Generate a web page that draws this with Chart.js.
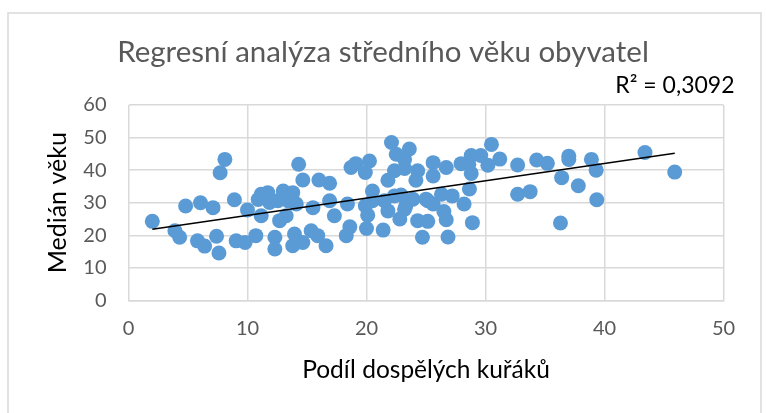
<!DOCTYPE html>
<html>
<head>
<meta charset="utf-8">
<script src="https://cdn.jsdelivr.net/npm/chart.js@4/dist/chart.umd.min.js"></script>
<style>
    html, body { margin: 0; padding: 0; background: #fff; }
    #wrap { width: 766px; height: 413px; }
</style>
</head>
<body>
<div id="wrap"><canvas id="graph" width="766" height="413"></canvas></div>
<script>
// Podíl dospělých kuřáků (x) a medián věku (y)
const smokers = [
    2.0, 3.9, 4.3, 4.8, 5.8, 6.05, 6.4, 7.1, 7.4, 7.6, 7.7, 8.1, 8.9, 9.05, 9.8, 10.0, 10.7, 10.9,
    11.15, 11.7, 11.85, 11.15, 12.55, 13.0, 13.8, 13.4, 14.1, 12.7, 13.25, 12.3, 12.3, 13.95, 13.8,
    14.65, 15.35, 15.9, 16.6, 14.3, 14.65, 16.0, 16.9, 15.5, 16.9, 17.3, 18.4,
    18.6, 18.3, 18.7, 19.1, 20.25, 19.9, 20.5, 19.9, 20.1, 20.0, 20.5,
    21.4, 21.5, 21.8, 21.8, 22.1, 22.5, 22.35, 22.35, 22.9, 22.8, 23.2, 23.2, 23.2, 23.6, 23.9,
    24.15, 24.3, 24.3, 24.7, 25.0, 25.15, 25.15, 25.6, 25.6, 25.6, 23.3,
    26.3, 26.7, 27.2, 26.5, 26.7, 26.85, 27.95, 28.2, 28.65, 28.8, 28.8, 28.9, 29.6, 30.2, 30.5, 31.2, 28.6,
    32.7, 32.7, 33.75, 34.3, 35.2, 36.3, 36.4, 37.0, 37.0, 37.8, 38.9, 39.3, 39.35, 43.4, 45.9
];
const medianAge = [
    24.3, 21.4, 19.4, 29.0, 18.3, 30.0, 16.7, 28.5, 19.7, 14.6, 39.2, 43.3, 30.9, 18.3, 17.8, 27.8, 19.9, 31.0,
    32.6, 33.1, 30.1, 26.0, 30.6, 33.6, 33.1, 30.6, 29.6, 24.5, 26.0, 19.4, 15.8, 20.4, 16.8,
    17.8, 21.4, 19.9, 16.8, 41.8, 37.0, 37.0, 36.0, 28.5, 30.6, 26.0, 29.6,
    22.6, 19.9, 40.8, 42.0, 42.8, 39.3, 33.6, 29.1, 26.2, 22.1, 30.6,
    21.6, 30.6, 27.5, 36.9, 48.5, 44.9, 39.8, 32.1, 32.4, 25.0, 28.0, 40.5, 43.3, 46.5, 31.1,
    36.9, 39.8, 24.5, 19.4, 31.1, 24.3, 30.6, 42.3, 38.2, 29.6, 29.0,
    32.6, 40.8, 32.1, 27.3, 24.8, 19.5, 42.0, 29.6, 34.2, 39.0, 44.5, 23.9, 44.5, 41.5, 47.9, 43.4, 41.8,
    41.6, 32.6, 33.4, 43.1, 42.1, 23.8, 37.7, 44.3, 43.3, 35.2, 43.3, 40.0, 30.9, 45.4, 39.4
];

// lineární trend (koncové body)
const trendX = [2.0, 45.9];
const trendY = [21.9, 45.2];

const xTicks = [0, 10, 20, 30, 40, 50];
const yTicks = [0, 10, 20, 30, 40, 50, 60];

const chartTitle = 'Regresní analýza středního věku obyvatel';
const xTitle = 'Podíl dospělých kuřáků';
const yTitle = 'Medián věku';
const rSquared = 'R² = 0,3092';

const FONT = 'Lato, "Open Sans", sans-serif';
const GRID = '#d9d9d9';

const points = smokers.map((x, i) => ({ x: x, y: medianAge[i] }));
const trend = trendX.map((x, i) => ({ x: x, y: trendY[i] }));

// rámeček, nadpis a popisek R²
const extras = {
    id: 'extras',
    afterDraw(chart) {
        const c = chart.ctx;
        const area = chart.chartArea;
        c.save();
        c.strokeStyle = GRID;
        c.lineWidth = 1.5;
        c.strokeRect(8, 13, 753, 420);

        c.fillStyle = '#595959';
        c.font = '29.5px ' + FONT;
        c.textAlign = 'center';
        c.textBaseline = 'middle';
        c.fillText(chartTitle, 383, 52);

        c.fillStyle = '#000';
        c.font = '23px ' + FONT;
        c.textAlign = 'right';
        c.textBaseline = 'alphabetic';
        c.fillText(rSquared, area.right + 11, area.top - 12);
        c.restore();
    }
};

const ctx = document.getElementById('graph').getContext('2d');
new Chart(ctx, {
    type: 'scatter',
    data: {
        datasets: [{
            label: 'trend',
            type: 'line',
            data: trend,
            borderColor: '#000',
            borderWidth: 1.5,
            pointRadius: 0,
            fill: false,
            order: 0
        }, {
            label: 'státy',
            data: points,
            backgroundColor: '#5b9bd5',
            borderWidth: 0,
            pointRadius: 7.5,
            pointHoverRadius: 7.5,
            order: 1
        }]
    },
    options: {
        responsive: false,
        animation: false,
        layout: { padding: { left: 0, right: 42.5, top: 105, bottom: 0 } },
        scales: {
            x: {
                type: 'linear',
                min: 0,
                max: 50,
                afterBuildTicks: (scale) => { scale.ticks = xTicks.map(v => ({ value: v })); },
                afterFit: (scale) => { scale.height = 112.5; },
                ticks: { color: '#595959', font: { family: FONT, size: 20 }, padding: 16 },
                grid: { color: GRID, lineWidth: 1.5, drawTicks: false },
                border: { color: GRID, width: 1.5 },
                title: {
                    display: true,
                    text: xTitle,
                    color: '#000',
                    font: { family: FONT, size: 24.5 },
                    padding: { top: 0, bottom: 28 }
                }
            },
            y: {
                type: 'linear',
                min: 0,
                max: 60,
                afterBuildTicks: (scale) => { scale.ticks = yTicks.map(v => ({ value: v })); },
                afterFit: (scale) => { scale.width = 128.5; },
                ticks: { color: '#595959', font: { family: FONT, size: 20 }, padding: 22 },
                grid: { color: GRID, lineWidth: 1.5, drawTicks: false },
                border: { display: false },
                title: {
                    display: true,
                    text: yTitle,
                    color: '#000',
                    font: { family: FONT, size: 25 },
                    padding: { top: 43, bottom: 0 }
                }
            }
        },
        plugins: {
            legend: { display: false },
            tooltip: { enabled: false },
            title: { display: false }
        }
    },
    plugins: [extras]
});
</script>
</body>
</html>
